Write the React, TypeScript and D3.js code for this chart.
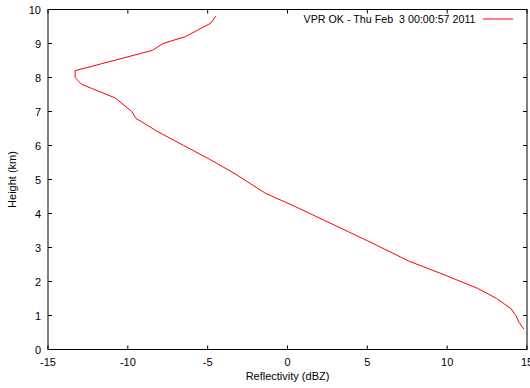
import React from "react";
import * as d3 from "d3";

const heights = [0.6, 0.8, 1.0, 1.2, 1.5, 1.8, 2.2, 2.6, 3.2, 3.8, 4.2, 4.6, 5.2, 5.6, 6.0, 6.4, 6.8, 7.0, 7.4, 7.8, 8.0, 8.2, 8.8, 9.0, 9.2, 9.4, 9.6, 9.8];
const reflectivity = [14.8, 14.5, 14.3, 14.0, 13.1, 11.9, 9.8, 7.6, 5.0, 2.3, 0.5, -1.4, -3.4, -4.9, -6.5, -8.1, -9.5, -9.75, -10.8, -12.9, -13.3, -13.3, -8.45, -7.8, -6.4, -5.6, -4.8, -4.5];
const xTicks = [-15, -10, -5, 0, 5, 10, 15];
const yTicks = [0, 1, 2, 3, 4, 5, 6, 7, 8, 9, 10];
const legendLabel = "VPR OK - Thu Feb  3 00:00:57 2011";
const xTitle = "Reflectivity (dBZ)";
const yTitle = "Height (km)";

export default function App() {
  const W = 530, H = 388;
  const left = 48, right = 527, top = 9.5, bottom = 349.5;
  const x = d3.scaleLinear().domain([-15, 15]).range([left, right]);
  const y = d3.scaleLinear().domain([0, 10]).range([bottom, top]);
  const pts = heights.map((h, i) => [reflectivity[i], h] as [number, number]);
  const line = d3.line<[number, number]>().x(d => x(d[0])).y(d => y(d[1]));
  const font = "'Liberation Sans', Arial, sans-serif";
  const tl = 4;
  return (
    <svg width={W} height={H} style={{ position: "absolute", left: 0, top: 0 }} fontFamily={font} fontSize={11}>
      <rect x={0} y={0} width={W} height={H} fill="white" />
      {xTicks.map(t => (
        <g key={"x" + t}>
          <line x1={x(t)} x2={x(t)} y1={bottom} y2={bottom - tl} stroke="#000" />
          <line x1={x(t)} x2={x(t)} y1={top} y2={top + tl} stroke="#000" />
          <text x={x(t)} y={bottom + 16} textAnchor="middle" fill="#000">{t}</text>
        </g>
      ))}
      {yTicks.map(t => (
        <g key={"y" + t}>
          <line x1={left} x2={left + tl} y1={y(t)} y2={y(t)} stroke="#000" />
          <line x1={right} x2={right - tl} y1={y(t)} y2={y(t)} stroke="#000" />
          <text x={left - 7} y={y(t) + 4} textAnchor="end" fill="#000">{t}</text>
        </g>
      ))}
      <rect x={left} y={top} width={right - left} height={bottom - top} fill="none" stroke="#000" strokeWidth={1} />
      <path d={line(pts) || ""} fill="none" stroke="#ff0000" strokeWidth={1} />
      <text x={475.5} y={23} textAnchor="end" fill="#000" fontSize={10.7} style={{ whiteSpace: "pre" }}>{legendLabel}</text>
      <line x1={483} x2={513} y1={19} y2={19} stroke="#ff0000" />
      <text x={(left + right) / 2} y={380} textAnchor="middle" fill="#000">{xTitle}</text>
      <text transform={`translate(16,${(top + bottom) / 2}) rotate(-90)`} textAnchor="middle" fill="#000">{yTitle}</text>
    </svg>
  );
}
